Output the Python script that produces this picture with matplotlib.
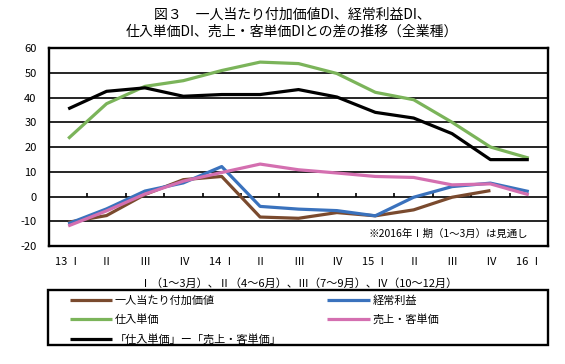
import matplotlib
matplotlib.use("Agg")
import matplotlib.pyplot as plt
from matplotlib.patches import Rectangle
import numpy as np

plt.rcParams['font.family'] = ['Noto Sans CJK JP', 'DejaVu Sans']
plt.rcParams['axes.unicode_minus'] = False

# quarters 2013 I .. 2016 I
quarters = ["13 Ⅰ", "Ⅱ", "Ⅲ", "Ⅳ", "14 Ⅰ", "Ⅱ", "Ⅲ", "Ⅳ",
            "15 Ⅰ", "Ⅱ", "Ⅲ", "Ⅳ", "16 Ⅰ"]

value_added = [-10.4, -7.7, 0.8, 6.8, 8.1, -8.3, -8.8, -6.5, -7.8, -5.4, -0.3, 2.4]
profit = [-11.0, -5.0, 2.2, 5.5, 12.1, -4.0, -5.1, -5.7, -7.8, -0.3, 4.0, 5.4, 2.0]
purchase_price = [23.4, 37.5, 44.5, 46.8, 50.9, 54.3, 53.7, 49.7, 42.1, 39.1, 30.0, 20.0, 15.5]
sales_price = [-11.9, -5.8, 1.0, 6.2, 9.7, 13.1, 10.8, 9.5, 8.1, 7.7, 4.7, 5.1, 0.7]
price_gap = [35.4, 42.5, 43.9, 40.5, 41.2, 41.2, 43.2, 40.2, 34.0, 31.7, 25.4, 14.9, 14.9]

yticks = [60, 50, 40, 30, 20, 10, 0, -10, -20]

labels = ["一人当たり付加価値", "経常利益", "仕入単価", "売上・客単価",
          "「仕入単価」ー「売上・客単価」"]
colors = ["#7a4a2e", "#3a72bd", "#7bb45a", "#d46fb0", "#000000"]

W, H = 565, 364
fig = plt.figure(figsize=(W / 100, H / 100), dpi=100)
ax = fig.add_axes([49 / W, 1 - 246 / H, 499 / W, 198 / H])

x = np.arange(len(quarters))
series = [value_added, profit, purchase_price, sales_price, price_gap]
lines = []
for i, (s, c, lab) in enumerate(zip(series, colors, labels)):
    ln, = ax.plot(x[:len(s)], s, color=c, lw=2.3, label=lab, zorder=3 + i,
                  solid_capstyle='butt')
    lines.append(ln)

ax.set_xlim(-0.5, len(quarters) - 0.5)
ax.set_ylim(-20, 60)
ax.set_yticks(yticks, [str(v) for v in yticks])
ax.set_xticks(x, quarters)
ax.tick_params(axis='y', length=0, pad=9, labelsize=8)
ax.tick_params(axis='x', length=0, pad=8, labelsize=8)
ax.yaxis.grid(True, color='black', lw=1.2)
ax.set_axisbelow(True)
for sp in ax.spines.values():
    sp.set_linewidth(1.7)

# small ticks between quarters on the zero line
ax.vlines(x[:-1] + 0.5, 0, 1.6, color='black', lw=1.2, zorder=2)

ax.set_xlabel("Ⅰ（1～3月）、Ⅱ（4～6月）、Ⅲ（7～9月）、Ⅳ（10～12月）",
              fontsize=8, labelpad=8)
ax.text(0.96, 0.06, "※2016年Ⅰ期（1～3月）は見通し", transform=ax.transAxes,
        ha='right', va='center', fontsize=7.5)

fig.text(292 / W, 1 - 23.5 / H,
         "図３　一人当たり付加価値DI、経常利益DI、\n仕入単価DI、売上・客単価DIとの差の推移（全業種）",
         ha='center', va='center', fontsize=10, linespacing=1.25)

# legend box
fig.add_artist(Rectangle((48 / W, 1 - 345 / H), 500 / W, 55 / H,
                         transform=fig.transFigure, fill=False,
                         edgecolor='black', lw=1.7))
order = [lines[0], lines[2], lines[4], lines[1], lines[3]]
fig.legend(handles=order, labels=[l.get_label() for l in order],
           loc='upper left', bbox_to_anchor=(70 / W, 1 - 295 / H),
           bbox_transform=fig.transFigure, ncol=2, frameon=False,
           fontsize=8, handlelength=3.8, handletextpad=0.25,
           columnspacing=4.1, labelspacing=0.78, borderpad=0,
           borderaxespad=0)

fig.savefig("out.png", dpi=100)
